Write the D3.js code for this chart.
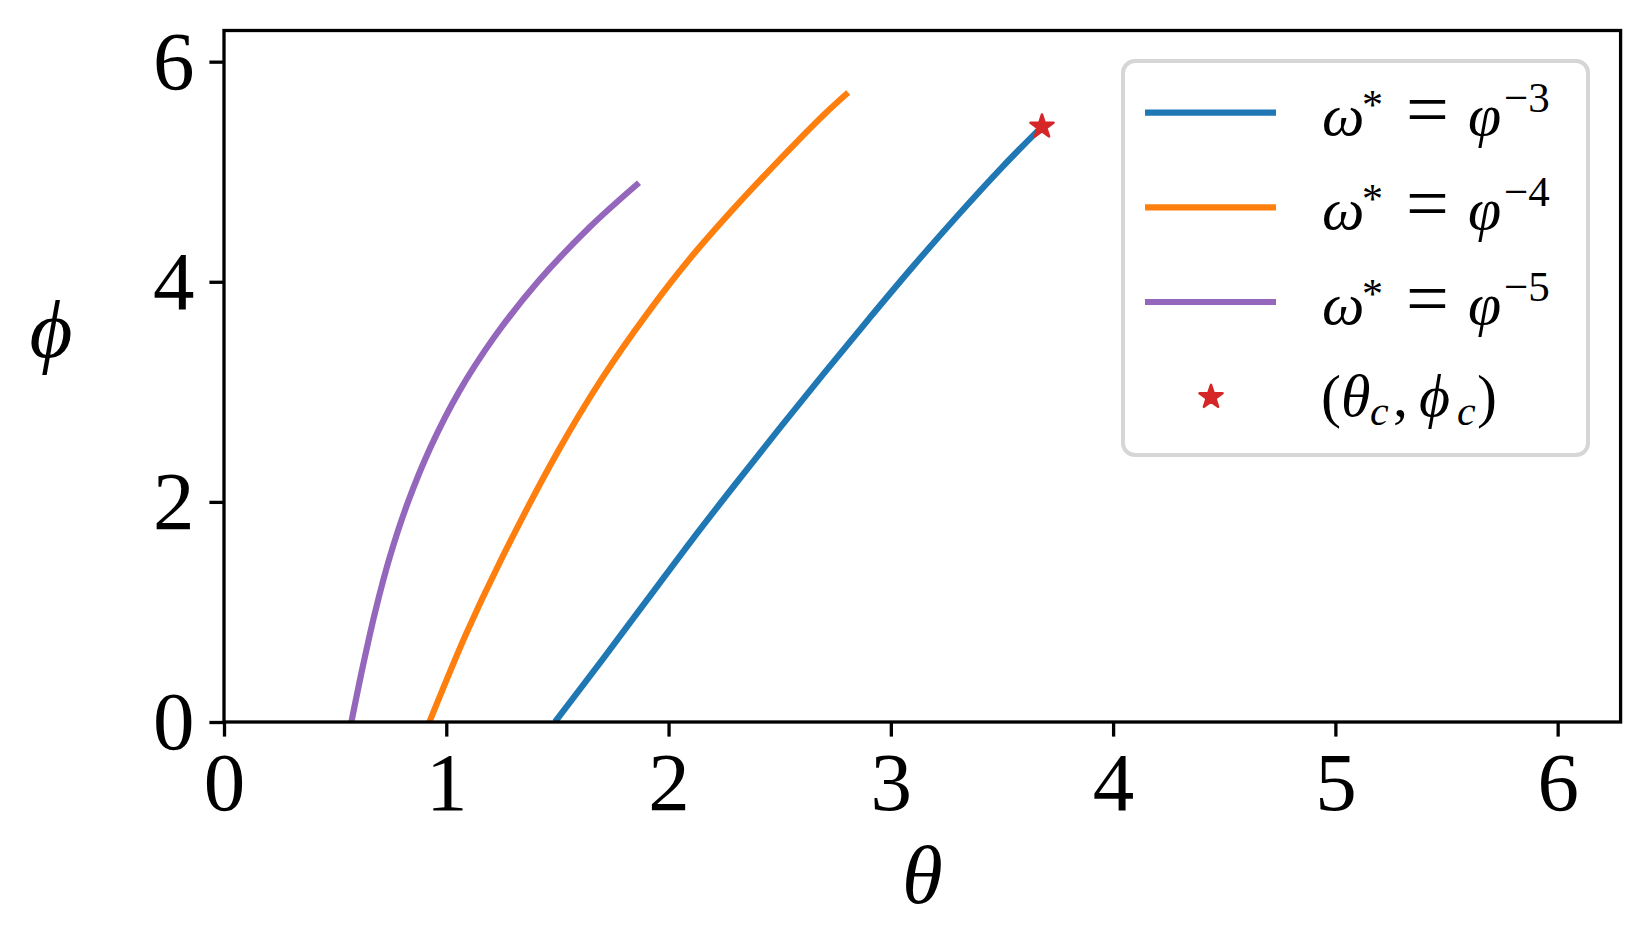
<!DOCTYPE html>
<html>
<head>
<meta charset="utf-8">
<script src="https://cdn.jsdelivr.net/npm/d3@7"></script>
<style>
  body { margin: 0; background: #fff; }
  svg text { font-family: 'Liberation Serif', 'DejaVu Serif', serif; fill: #000; }
</style>
</head>
<body>
<div id="chart"></div>
<script>
// curves phi(theta)
const thetaM3 = [1.489, 1.70, 1.90, 2.10, 2.30, 2.50, 2.70, 2.90, 3.10, 3.30, 3.50, 3.68];
const phiM3   = [0.00, 0.56, 1.10, 1.64, 2.16, 2.67, 3.17, 3.66, 4.14, 4.60, 5.04, 5.41];

const thetaM4 = [0.924, 1.089, 1.238, 1.50, 1.70, 1.90, 2.10, 2.30, 2.50, 2.70, 2.808];
const phiM4   = [0.00, 0.80, 1.44, 2.45, 3.12, 3.70, 4.22, 4.68, 5.11, 5.52, 5.72];

const thetaM5 = [0.573, 0.624, 0.680, 0.746, 0.828, 0.930, 1.057, 1.217, 1.412, 1.647, 1.867];
const phiM5   = [0.00, 0.50, 1.00, 1.50, 2.00, 2.50, 3.00, 3.50, 4.00, 4.50, 4.90];

// critical point
const thetaC = [3.68];
const phiC = [5.41];

const xTicks = [0, 1, 2, 3, 4, 5, 6];
const yTicks = [0, 2, 4, 6];
const exponents = ['\u22123', '\u22124', '\u22125'];

const colors = ['#1f77b4', '#ff7f0e', '#9467bd'];
const starColor = '#d62728';

const width = 1650, height = 952;
const margin = { left: 224, right: 29.4, top: 30.5, bottom: 230 };

const svg = d3.select('#chart').append('svg')
    .attr('width', width)
    .attr('height', height);

const x = d3.scaleLinear().domain([0, 2 * Math.PI]).range([margin.left, width - margin.right]);
const y = d3.scaleLinear().domain([0, 2 * Math.PI]).range([height - margin.bottom, margin.top]);

const series = [
    { th: thetaM3, ph: phiM3 },
    { th: thetaM4, ph: phiM4 },
    { th: thetaM5, ph: phiM5 }
];

const line = d3.line()
    .x(d => x(d[0]))
    .y(d => y(d[1]))
    .curve(d3.curveCatmullRom.alpha(0.5));

svg.append('clipPath').attr('id', 'plotclip')
    .append('rect')
    .attr('x', x(0)).attr('y', y(2 * Math.PI))
    .attr('width', x(2 * Math.PI) - x(0))
    .attr('height', y(0) - y(2 * Math.PI));

const plot = svg.append('g').attr('clip-path', 'url(#plotclip)');

series.forEach((s, i) => {
    plot.append('path')
        .datum(s.th.map((t, k) => [t, s.ph[k]]))
        .attr('fill', 'none')
        .attr('stroke', colors[i])
        .attr('stroke-width', 6.2)
        .attr('stroke-linecap', 'butt')
        .attr('d', line);
});

// star marker
const star = d3.symbol().type(d3.symbolStar).size(165);
plot.selectAll('.crit')
    .data(thetaC.map((t, k) => [t, phiC[k]]))
    .join('path')
    .attr('class', 'crit')
    .attr('transform', d => `translate(${x(d[0])},${y(d[1])})`)
    .attr('d', star)
    .attr('fill', starColor)
    .attr('stroke', starColor)
    .attr('stroke-width', 2.5)
    .attr('stroke-linejoin', 'round');

// axes
const xAxis = d3.axisBottom(x).tickValues(xTicks).tickFormat(d3.format('d'))
    .tickSize(14.6).tickSizeOuter(0).tickPadding(14);
const yAxis = d3.axisLeft(y).tickValues(yTicks).tickFormat(d3.format('d'))
    .tickSize(14.6).tickSizeOuter(0).tickPadding(15);

const gx = svg.append('g').attr('transform', `translate(0,${y(0)})`).call(xAxis);
const gy = svg.append('g').attr('transform', `translate(${x(0)},0)`).call(yAxis);

[gx, gy].forEach(g => {
    g.select('.domain').remove();
    g.selectAll('.tick line').attr('stroke', '#000').attr('stroke-width', 3.3);
    g.selectAll('.tick text')
        .attr('font-size', 83)
        .attr('font-family', "'Liberation Serif', serif")
        .attr('fill', '#000');
});

// frame
svg.append('rect')
    .attr('x', x(0)).attr('y', y(2 * Math.PI))
    .attr('width', x(2 * Math.PI) - x(0))
    .attr('height', y(0) - y(2 * Math.PI))
    .attr('fill', 'none')
    .attr('stroke', '#000')
    .attr('stroke-width', 3.3);

// axis labels
svg.append('text')
    .attr('x', (x(0) + x(2 * Math.PI)) / 2)
    .attr('y', 903)
    .attr('text-anchor', 'middle')
    .attr('font-size', 83)
    .attr('font-style', 'italic')
    .text('\u03B8');

svg.append('text')
    .attr('x', 51)
    .attr('y', 357)
    .attr('text-anchor', 'middle')
    .attr('font-size', 83)
    .attr('font-style', 'italic')
    .text('\u03D5');

// legend
const lg = svg.append('g');
const lx = 1123, ly = 61, lw = 465, lh = 394;
lg.append('rect')
    .attr('x', lx).attr('y', ly)
    .attr('width', lw).attr('height', lh)
    .attr('rx', 12).attr('ry', 12)
    .attr('fill', 'rgba(255,255,255,0.8)')
    .attr('stroke', '#d6d6d6')
    .attr('stroke-width', 4);

const rowY = [112.7, 207.3, 302, 397];
const fs = 60;

exponents.forEach((e, i) => {
    const ry = rowY[i];
    const base = ry + 22;
    lg.append('line')
        .attr('x1', 1145).attr('x2', 1276)
        .attr('y1', ry).attr('y2', ry)
        .attr('stroke', colors[i])
        .attr('stroke-width', 6.2);
    const t = lg.append('text').attr('font-size', fs);
    t.append('tspan').attr('x', 1322).attr('y', base)
        .attr('font-style', 'italic').text('\u03C9');
    t.append('tspan').attr('x', 1362).attr('y', base - 16)
        .attr('font-size', 42).text('*');
    t.append('tspan').attr('x', 1406).attr('y', base)
        .attr('font-size', 76).text('=');
    t.append('tspan').attr('x', 1468).attr('y', base)
        .attr('font-style', 'italic').text('\u03C6');
    t.append('tspan').attr('x', 1504).attr('y', base - 23)
        .attr('font-size', 43).text(e);
});

lg.append('path')
    .attr('transform', `translate(1211,${rowY[3]})`)
    .attr('d', star)
    .attr('fill', starColor)
    .attr('stroke', starColor)
    .attr('stroke-width', 2.5)
    .attr('stroke-linejoin', 'round');

const cb = rowY[3] + 19;
const tc = lg.append('text').attr('font-size', fs);
tc.append('tspan').attr('x', 1321).attr('y', cb).text('(');
tc.append('tspan').attr('x', 1341).attr('y', cb).attr('font-style', 'italic').text('\u03B8');
tc.append('tspan').attr('x', 1370).attr('y', cb + 9).attr('font-style', 'italic').attr('font-size', 42).text('c');
tc.append('tspan').attr('x', 1393).attr('y', cb).text(',');
tc.append('tspan').attr('x', 1419).attr('y', cb).attr('font-style', 'italic').text('\u03D5');
tc.append('tspan').attr('x', 1457).attr('y', cb + 9).attr('font-style', 'italic').attr('font-size', 42).text('c');
tc.append('tspan').attr('x', 1477).attr('y', cb).text(')');
</script>
</body>
</html>
